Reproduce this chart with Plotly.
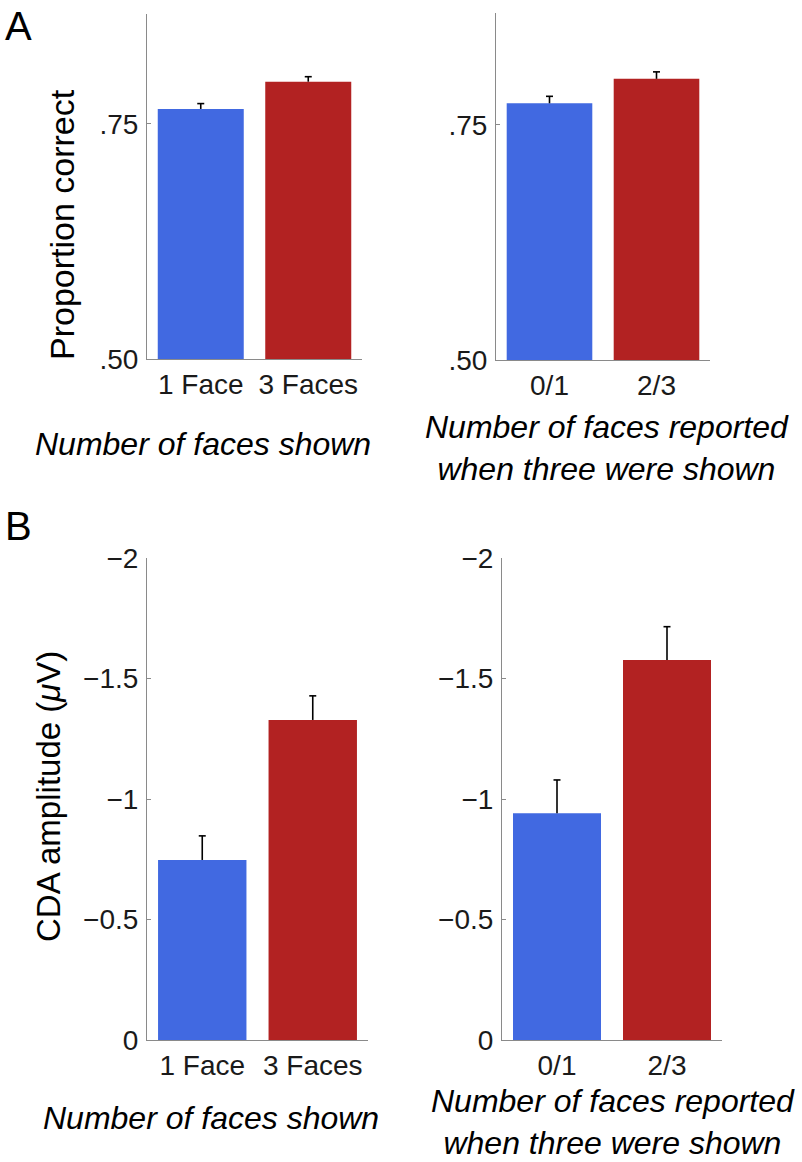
import plotly.graph_objects as go

# ---------------- data ----------------
cat_shown = ["1 Face", "3 Faces"]
cat_reported = ["0/1", "2/3"]

acc_shown = [0.766, 0.795]
acc_shown_err = [0.0057, 0.0053]
acc_reported = [0.773, 0.799]
acc_reported_err = [0.0074, 0.0074]

cda_shown = [-0.747, -1.328]
cda_shown_err = [0.100, 0.100]
cda_reported = [-0.941, -1.577]
cda_reported_err = [0.138, 0.138]

acc_ticks = [0.50, 0.75]
acc_ticktext = [".50", ".75"]
cda_ticks = [0, -0.5, -1, -1.5, -2]
cda_ticktext = ["0", "\u22120.5", "\u22121", "\u22121.5", "\u22122"]

colors = ["#4169E1", "#B22222"]

# ---------------- layout constants ----------------
W, H = 802, 1162
FONT = "Liberation Sans, Arial, Helvetica, sans-serif"
AXC = "#8a8a8a"
TXT = "#1a1a1a"


def xdom(x0, x1):
    return [x0 / W, x1 / W]


def ydom(top, bottom):
    return [1 - bottom / H, 1 - top / H]


fig = go.Figure()

panels = [
    ("", cat_shown, acc_shown, acc_shown_err, xdom(147, 362), ydom(14, 359), [0.5, 0.867], True),
    ("2", cat_reported, acc_reported, acc_reported_err, xdom(496, 710), ydom(13, 360), [0.5, 0.869], True),
    ("3", cat_shown, cda_shown, cda_shown_err, xdom(147, 368), ydom(558, 1040), [0, -2], False),
    ("4", cat_reported, cda_reported, cda_reported_err, xdom(502, 722), ydom(558, 1040), [0, -2], False),
]

xpos = [1, 2]

for ax, cats, vals, errs, dx, dy, yr, pos in panels:
    fig.add_trace(go.Bar(
        x=xpos, y=vals, width=0.8,
        marker=dict(color=colors, line=dict(width=0)),
        xaxis="x" + ax, yaxis="y" + ax, showlegend=False, hoverinfo="skip",
    ))
    # one-sided error bars (away from zero)
    sign = 1 if pos else -1
    tops = [v + sign * e for v, e in zip(vals, errs)]
    wx, wy = [], []
    for xi, v, t in zip(xpos, vals, tops):
        wx += [xi, xi, None]
        wy += [v, t, None]
    fig.add_trace(go.Scatter(
        x=wx, y=wy, mode="lines", line=dict(color="black", width=1.6),
        xaxis="x" + ax, yaxis="y" + ax, showlegend=False, hoverinfo="skip",
    ))
    fig.add_trace(go.Scatter(
        x=xpos, y=tops, mode="markers",
        marker=dict(symbol="line-ew", size=5, line=dict(color="black", width=1.6)),
        xaxis="x" + ax, yaxis="y" + ax, showlegend=False, hoverinfo="skip",
    ))
    xa = dict(domain=dx, range=[0.5, 2.5], tickvals=xpos, ticktext=cats,
              showline=True, linecolor=AXC, linewidth=1, ticks="",
              showgrid=False, zeroline=False, fixedrange=True, automargin=False,
              tickfont=dict(family=FONT, size=28, color=TXT),
              anchor="y" + ax, ticklabelstandoff=0)
    if pos:
        ya = dict(tickvals=acc_ticks, ticktext=acc_ticktext)
    else:
        ya = dict(tickvals=cda_ticks, ticktext=cda_ticktext)
    ya.update(domain=dy, range=yr, showline=True, linecolor=AXC, linewidth=1,
              ticks="inside", ticklen=4, tickcolor=AXC, tickwidth=1,
              showgrid=False, zeroline=False, fixedrange=True, automargin=False,
              tickfont=dict(family=FONT, size=28, color=TXT),
              anchor="x" + ax, ticklabelstandoff=2)
    fig.layout["xaxis" + ax] = xa
    fig.layout["yaxis" + ax] = ya


def ann(text, x, y, size, italic=False, angle=0, xanchor="center"):
    fig.add_annotation(
        text=text, x=x / W, y=1 - y / H, xref="paper", yref="paper",
        showarrow=False, xanchor=xanchor, yanchor="middle", textangle=angle,
        font=dict(family=FONT, size=size, color="black",
                  style="italic" if italic else "normal"),
    )


ann("A", 3, 26, 40, xanchor="left")
ann("B", 3, 526, 40, xanchor="left")
ann("Proportion correct", 62, 225, 34, angle=-90)
ann("CDA amplitude (<i>\u03bc</i>V)", 49, 797, 33, angle=-90)
ann("Number of faces shown", 203, 444, 32, italic=True)
ann("Number of faces reported<br>when three were shown", 607, 448, 32, italic=True)
ann("Number of faces shown", 211, 1118, 32, italic=True)
ann("Number of faces reported<br>when three were shown", 613, 1122, 32, italic=True)

fig.update_layout(
    template="none",
    width=W, height=H, margin=dict(l=0, r=0, t=0, b=0, pad=0),
    paper_bgcolor="white", plot_bgcolor="white",
    bargap=0.2,
)

fig.write_html("out.html", config={"displayModeBar": False})
